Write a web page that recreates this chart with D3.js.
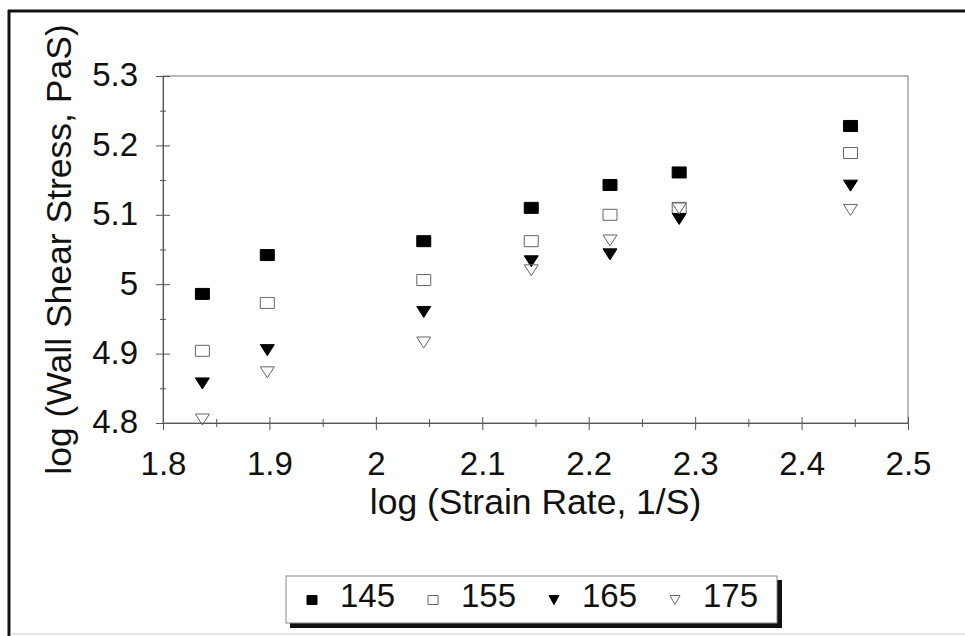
<!DOCTYPE html>
<html>
<head>
<meta charset="utf-8">
<script src="https://cdn.jsdelivr.net/npm/d3@7"></script>
<style>
  html, body { margin: 0; padding: 0; background: #fff; }
  text { font-family: "Liberation Sans", Arial, sans-serif; fill: #111; }
</style>
</head>
<body>
<div class="chart"></div>
<script>
const width = 965
const height = 636

// data
const strainRate = [1.837, 1.898, 2.045, 2.146, 2.220, 2.285, 2.446]
const series145 = [4.986, 5.042, 5.062, 5.110, 5.143, 5.161, 5.228]
const series155 = [4.904, 4.973, 5.006, 5.062, 5.100, 5.110, 5.189]
const series165 = [4.857, 4.905, 4.960, 5.033, 5.043, 5.094, 5.142]
const series175 = [4.805, 4.873, 4.916, 5.020, 5.063, 5.109, 5.107]
const seriesNames = ['145', '155', '165', '175']
const seriesShapes = ['squareFilled', 'squareOpen', 'triFilled', 'triOpen']
const xTickLabels = ['1.8', '1.9', '2', '2.1', '2.2', '2.3', '2.4', '2.5']
const yTickLabels = ['4.8', '4.9', '5', '5.1', '5.2', '5.3']

const series = [series145, series155, series165, series175]

const x = d3.scaleLinear().domain([1.8, 2.5]).range([163, 908])
const y = d3.scaleLinear().domain([4.8, 5.3]).range([423, 76])

const svg = d3.select('.chart')
  .append('svg')
  .attr('width', width)
  .attr('height', height)

// outer frame (left + top, scanned page look)
svg.append('line')
  .attr('x1', 9).attr('x2', 9).attr('y1', 10).attr('y2', height)
  .attr('stroke', '#111').attr('stroke-width', 3)
svg.append('line')
  .attr('x1', 8).attr('x2', width).attr('y1', 11).attr('y2', 11)
  .attr('stroke', '#111').attr('stroke-width', 3)
svg.append('line')
  .attr('x1', 10).attr('x2', width).attr('y1', 634).attr('y2', 634)
  .attr('stroke', '#ccc').attr('stroke-width', 1)

// plot border
svg.append('rect')
  .attr('x', x(1.8)).attr('y', y(5.3))
  .attr('width', x(2.5) - x(1.8)).attr('height', y(4.8) - y(5.3))
  .attr('fill', 'none').attr('stroke', '#777').attr('stroke-width', 1)

const isMajor = v => Math.abs(v * 10 - Math.round(v * 10)) < 1e-6

const xTickValues = d3.range(0, 15).map(i => +(1.8 + i * 0.05).toFixed(2))
const yTickValues = d3.range(0, 11).map(i => +(4.8 + i * 0.05).toFixed(2))

const xAxis = svg.append('g')
  .attr('transform', `translate(0,${y(4.8)})`)
  .call(d3.axisBottom(x)
    .tickValues(xTickValues)
    .tickSizeOuter(0)
    .tickFormat(d => isMajor(d) ? xTickLabels[Math.round((d - 1.8) * 10)] : ''))

xAxis.select('.domain').attr('stroke', '#555')
xAxis.selectAll('.tick line')
  .attr('stroke', '#555')
  .attr('y1', d => isMajor(d) ? -6 : -4)
  .attr('y2', d => isMajor(d) ? 7 : 4)
xAxis.selectAll('.tick text')
  .attr('y', 52)
  .attr('dy', 0)
  .attr('font-size', 33)
  .attr('font-family', '"Liberation Sans", Arial, sans-serif')
  .attr('fill', '#111')

const yAxis = svg.append('g')
  .attr('transform', `translate(${x(1.8)},0)`)
  .call(d3.axisLeft(y)
    .tickValues(yTickValues)
    .tickSizeOuter(0)
    .tickFormat(d => isMajor(d) ? yTickLabels[Math.round((d - 4.8) * 10)] : ''))

yAxis.select('.domain').attr('stroke', '#555')
yAxis.selectAll('.tick line')
  .attr('stroke', '#555')
  .attr('x1', d => isMajor(d) ? -7 : -3)
  .attr('x2', d => isMajor(d) ? 7 : 3)
yAxis.selectAll('.tick text')
  .attr('x', -25)
  .attr('dy', '0.3em')
  .attr('font-size', 33)
  .attr('font-family', '"Liberation Sans", Arial, sans-serif')
  .attr('fill', '#111')

// axis titles
svg.append('text')
  .attr('x', (x(1.8) + x(2.5)) / 2)
  .attr('y', 514)
  .attr('text-anchor', 'middle')
  .attr('font-size', 35.5)
  .text('log (Strain Rate, 1/S)')

svg.append('text')
  .attr('transform', `translate(71,${(y(4.8) + y(5.3)) / 2}) rotate(-90)`)
  .attr('text-anchor', 'middle')
  .attr('font-size', 35.5)
  .text('log (Wall Shear Stress, PaS)')

// marker shapes
const markerPath = (shape, w, h) => {
  if (shape.startsWith('square')) {
    return `M${-w / 2},${-h / 2}H${w / 2}V${h / 2}H${-w / 2}Z`
  }
  return `M${-w / 2},${-h / 2}H${w / 2}L0,${h / 2}Z`
}
const markerFill = shape => shape.endsWith('Filled') ? '#000' : '#fff'
const markerStroke = shape => shape.endsWith('Filled') ? '#000' : '#666'

series.forEach((values, si) => {
  const shape = seriesShapes[si]
  svg.append('g')
    .attr('class', `series-${seriesNames[si]}`)
    .selectAll('path')
    .data(values.map((v, i) => [strainRate[i], v]))
    .join('path')
    .attr('transform', d => `translate(${x(d[0])},${y(d[1])})`)
    .attr('d', markerPath(shape, 14, 11))
    .attr('fill', markerFill(shape))
    .attr('fill-opacity', shape.endsWith('Filled') ? 1 : 0)
    .attr('stroke', markerStroke(shape))
    .attr('stroke-width', 1)
})

// legend with drop shadow
const legend = svg.append('g').attr('class', 'legend')
legend.append('rect')
  .attr('x', 290).attr('y', 580).attr('width', 492).attr('height', 48)
  .attr('fill', '#111')
legend.append('rect')
  .attr('x', 286).attr('y', 576).attr('width', 491).attr('height', 47)
  .attr('fill', '#fff').attr('stroke', '#888').attr('stroke-width', 1)

const legendX = d3.scalePoint().domain(seriesNames).range([312, 675])

seriesNames.forEach((name, si) => {
  const shape = seriesShapes[si]
  legend.append('path')
    .attr('transform', `translate(${legendX(name)},600)`)
    .attr('d', markerPath(shape, 10, 9))
    .attr('fill', markerFill(shape))
    .attr('fill-opacity', shape.endsWith('Filled') ? 1 : 0)
    .attr('stroke', markerStroke(shape))
  legend.append('text')
    .attr('x', legendX(name) + 28)
    .attr('y', 607)
    .attr('font-size', 33)
    .text(name)
})
</script>
</body>
</html>
